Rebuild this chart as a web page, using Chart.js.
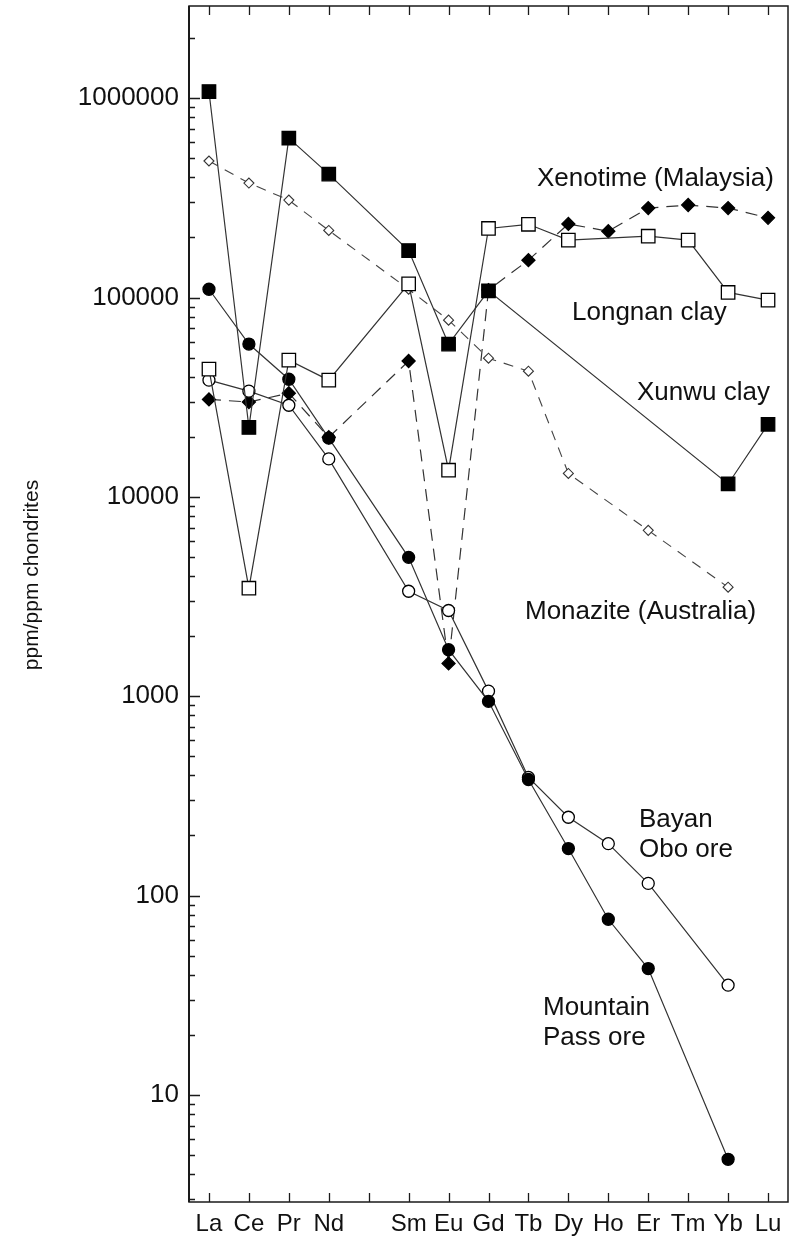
<!DOCTYPE html>
<html>
<head>
<meta charset="utf-8">
<script src="https://cdn.jsdelivr.net/npm/chart.js@4/dist/chart.umd.min.js"></script>
<style>
  html, body { margin: 0; padding: 0; background: #fff; }
</style>
</head>
<body>
<canvas id="ree" width="799" height="1239"></canvas>
<script>
// rare earth elements, Pm left blank
const elements = ['La', 'Ce', 'Pr', 'Nd', '', 'Sm', 'Eu', 'Gd', 'Tb', 'Dy', 'Ho', 'Er', 'Tm', 'Yb', 'Lu'];

// ppm / ppm chondrites
const xunwuClay    = [1080000, 22300, 630000, 416000, null, 172000, 58400, 108000, null, null, null, null, null, 11600, 23100];
const longnanClay  = [43700, 3480, 48500, 38500, null, 117000, 13600, 222000, 233000, 194000, null, 203000, 194000, 106000, 97000];
const xenotime     = [30800, 29900, 33100, 19900, null, 48000, 1460, 109000, 154000, 234000, 215000, 281000, 291000, 281000, 251000];
const monazite     = [484000, 375000, 308000, 217000, null, 110000, 77000, 49600, 42700, 13100, null, 6790, null, 3520, null];
const mountainPass = [110000, 58400, 38900, 19700, null, 4970, 1710, 942, 382, 172, 76, 43, null, 4.75, null];
const bayanObo     = [38500, 33900, 28800, 15500, null, 3360, 2690, 1060, 391, 247, 182, 115, null, 35.5, null];

const yTicks = [10, 100, 1000, 10000, 100000, 1000000];
const yTitle = 'ppm/ppm chondrites';

const FONT = '"Liberation Sans", Arial, Helvetica, sans-serif';
const INK = '#111';
const LINE = '#333';

function series(label, data, opts) {
  return Object.assign({
    label: label,
    data: data,
    borderColor: LINE,
    borderWidth: 1.2,
    pointBorderColor: '#000',
    pointBorderWidth: 1.3,
    spanGaps: true,
    tension: 0,
    fill: false
  }, opts);
}

// text labels placed next to the curves (left x, baseline y)
const notes = [
  { lines: ['Xenotime (Malaysia)'], x: 537, y: 186 },
  { lines: ['Longnan clay'], x: 572, y: 320 },
  { lines: ['Xunwu clay'], x: 637, y: 400 },
  { lines: ['Monazite (Australia)'], x: 525, y: 619 },
  { lines: ['Bayan', 'Obo ore'], x: 639, y: 827 },
  { lines: ['Mountain', 'Pass ore'], x: 543, y: 1015 }
];

function noPadding(s) {
  s.paddingTop = 0;
  s.paddingBottom = 0;
  s.paddingLeft = 0;
  s.paddingRight = 0;
}

const frameAndNotes = {
  id: 'frameAndNotes',
  afterDraw(chart) {
    const { ctx, chartArea: a, scales: { x, y } } = chart;
    ctx.save();
    ctx.strokeStyle = '#1a1a1a';
    ctx.lineWidth = 1.5;
    ctx.strokeRect(a.left, a.top, a.right - a.left, a.bottom - a.top);
    ctx.lineWidth = 2;
    ctx.beginPath();
    ctx.moveTo(a.left, a.top);
    ctx.lineTo(a.left, a.bottom);
    ctx.stroke();

    // tick marks, pointing inwards
    ctx.lineWidth = 1.3;
    ctx.beginPath();
    elements.forEach((el, i) => {
      const px = Math.round(x.getPixelForValue(i)) + 0.5;
      ctx.moveTo(px, a.top);
      ctx.lineTo(px, a.top + 9);
      ctx.moveTo(px, a.bottom);
      ctx.lineTo(px, a.bottom - 9);
    });
    for (let p = 0; p <= 6; p++) {
      for (let k = 1; k <= 9; k++) {
        const v = k * Math.pow(10, p);
        if (v < y.min || v > y.max) continue;
        const py = Math.round(y.getPixelForValue(v)) + 0.5;
        ctx.moveTo(a.left, py);
        ctx.lineTo(a.left + (k === 1 ? 11 : 6), py);
      }
    }
    ctx.stroke();

    // axis title
    ctx.fillStyle = INK;
    ctx.font = '21px ' + FONT;
    ctx.textAlign = 'center';
    ctx.textBaseline = 'middle';
    ctx.translate(32, 575);
    ctx.rotate(-Math.PI / 2);
    ctx.fillText(yTitle, 0, 0);
    ctx.setTransform(1, 0, 0, 1, 0, 0);

    // curve names
    ctx.font = '26px ' + FONT;
    ctx.textAlign = 'left';
    ctx.textBaseline = 'alphabetic';
    notes.forEach(n => {
      n.lines.forEach((t, j) => ctx.fillText(t, n.x, n.y + j * 30));
    });
    ctx.restore();
  }
};

new Chart(document.getElementById('ree'), {
  type: 'line',
  data: {
    labels: elements,
    datasets: [
      series('Xunwu clay', xunwuClay, { pointStyle: 'rect', pointRadius: 9.5, pointBackgroundColor: '#000' }),
      series('Longnan clay', longnanClay, { pointStyle: 'rect', pointRadius: 9.5, pointBackgroundColor: '#fff' }),
      series('Mountain Pass ore', mountainPass, { pointStyle: 'circle', pointRadius: 6, pointBackgroundColor: '#000' }),
      series('Bayan Obo ore', bayanObo, { pointStyle: 'circle', pointRadius: 6, pointBackgroundColor: '#fff' }),
      series('Xenotime (Malaysia)', xenotime, { pointStyle: 'rectRot', pointRadius: 6.5, pointBackgroundColor: '#000', borderDash: [12, 8] }),
      series('Monazite (Australia)', monazite, { pointStyle: 'rectRot', pointRadius: 5, pointBackgroundColor: '#fff', pointBorderColor: '#333', pointBorderWidth: 1.1, borderColor: '#444', borderWidth: 1.1, borderDash: [10, 8] })
    ]
  },
  options: {
    responsive: false,
    animation: false,
    devicePixelRatio: 1,
    layout: { autoPadding: false, padding: { top: 6, right: 11, left: 0, bottom: 0 } },
    plugins: { legend: { display: false }, tooltip: { enabled: false } },
    scales: {
      x: {
        type: 'category',
        offset: true,
        grid: { display: false, drawTicks: false },
        border: { display: false },
        ticks: { autoSkip: false, maxRotation: 0, padding: 8, color: INK, font: { family: FONT, size: 24 } },
        afterFit(s) { s.height = 37; noPadding(s); }
      },
      y: {
        type: 'logarithmic',
        min: 2.9,
        max: 2900000,
        grid: { display: false, drawTicks: false },
        border: { display: false },
        afterBuildTicks(s) { s.ticks = yTicks.map(v => ({ value: v, major: true })); },
        ticks: { padding: 10, color: INK, font: { family: FONT, size: 26 }, callback: v => String(v) },
        afterFit(s) { s.width = 189; noPadding(s); }
      }
    }
  },
  plugins: [frameAndNotes]
});
</script>
</body>
</html>
